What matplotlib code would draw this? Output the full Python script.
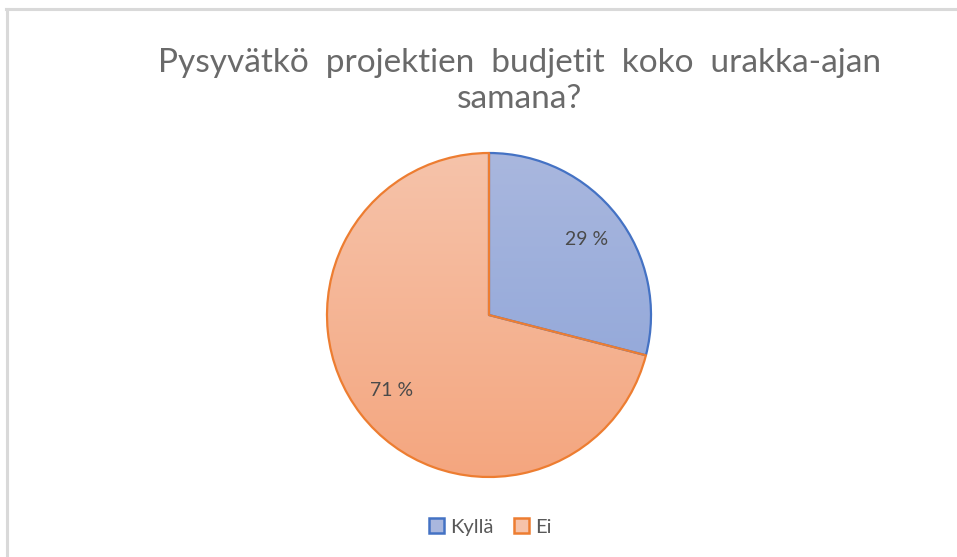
import numpy as np
import matplotlib
matplotlib.use("Agg")
import matplotlib.pyplot as plt
from matplotlib.patches import Rectangle
from matplotlib.colors import LinearSegmentedColormap

categories = ["Kyllä", "Ei"]
values = [29, 71]
title = "Pysyvätkö  projektien  budjetit  koko  urakka-ajan\nsamana?"

edge_colors = ["#4472c4", "#ed7d31"]
grad_top = ["#a9b7de", "#f6c3aa"]
grad_bot = ["#8aa2d8", "#f4a67f"]

plt.rcParams['font.family'] = ['Lato', 'DejaVu Sans']

W, H = 957, 557
fig = plt.figure(figsize=(W / 100, H / 100), dpi=100)
fig.patch.set_facecolor("white")

# frame lines (top and left)
fig.add_artist(plt.Line2D([6 / W, 1], [1 - 9 / H, 1 - 9 / H], color="#d9d9d9", lw=2.2))
fig.add_artist(plt.Line2D([7 / W, 7 / W], [0, 1 - 9 / H], color="#d9d9d9", lw=2.2))

cx, cy, r = 489, 315, 162
m = 1.2
aw = 2 * r * m
ax = fig.add_axes([(cx - r * m) / W, (H - cy - r * m) / H, aw / W, aw / H])
wedges, texts, autotexts = ax.pie(
    values, startangle=90, counterclock=False,
    autopct=lambda p: f"{p:.0f} %", pctdistance=0.76,
    wedgeprops=dict(linewidth=1.6, joinstyle="round"),
    textprops=dict(fontsize=14, color="#4a4a4a"))
ax.set_xlim(-m, m)
ax.set_ylim(-m, m)
ax.set_aspect("equal")
ax.axis("off")

grad = np.linspace(0, 1, 256).reshape(-1, 1)
for i, w in enumerate(wedges):
    cmap = LinearSegmentedColormap.from_list(f"g{i}", [grad_top[i], grad_bot[i]])
    im = ax.imshow(grad, cmap=cmap, extent=[-1, 1, -1, 1], origin="upper",
                   aspect="auto", zorder=1, interpolation="bilinear")
    im.set_clip_path(w)
    w.set_facecolor("none")
    w.set_edgecolor(edge_colors[i])
    w.set_zorder(2)
for t in autotexts:
    t.set_zorder(3)
ax.set_xlim(-m, m)
ax.set_ylim(-m, m)

fig.text(520 / W, 1 - 81 / H, title, ha="center", va="center",
         fontsize=24, color="#6a6a6a", fontweight="normal", linespacing=1.25)

# legend
handles = [Rectangle((0, 0), 1, 1, facecolor=grad_top[i], edgecolor=edge_colors[i], lw=1.8)
           for i in range(len(categories))]
leg = fig.legend(handles, categories, loc="center", bbox_to_anchor=(490 / W, 1 - 527 / H),
                 ncol=2, frameon=False, fontsize=14.5, handlelength=0.75, handleheight=0.75,
                 handletextpad=0.3, columnspacing=1.0)
for t in leg.get_texts():
    t.set_color("#595959")

fig.savefig("out.png", dpi=100, facecolor="white")
